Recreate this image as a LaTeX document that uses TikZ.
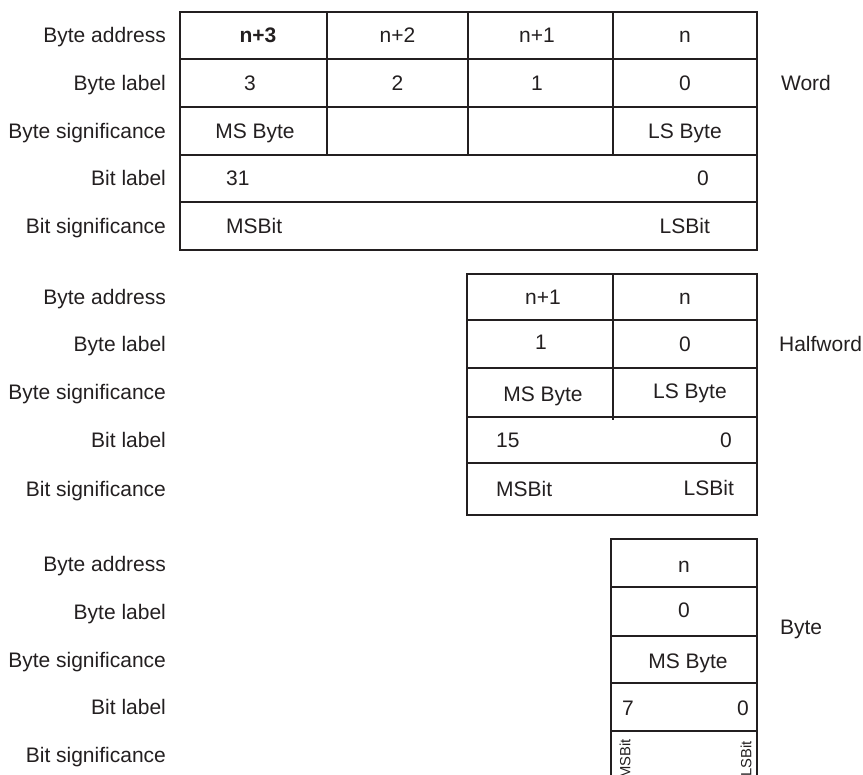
\documentclass[tikz,border=0pt]{standalone}
\usepackage{fontspec}
\setmainfont{Liberation Sans}
\usepackage{xcolor}
\usetikzlibrary{positioning}
\definecolor{ink}{RGB}{35,31,32}

\begin{document}
\begin{tikzpicture}[x=0.5pt, y=-0.5pt, ink, line width=1.1pt,
    font=\fontsize{10.5}{12}\selectfont,
    txt/.style={inner sep=0pt, text height=7.5pt, text depth=0pt},
    rowname/.style={txt, anchor=east},
    lft/.style={txt, anchor=west},
    rgt/.style={txt, anchor=east},
    rot/.style={txt, rotate=90, anchor=east, text height=5.3pt, font=\fontsize{7.4}{9}\selectfont}]
        \clip (0,0) rectangle (863,775);
        % Word
        \draw (180,12) rectangle (757,250);
        \draw (180,59) -- (757,59);
        \draw (180,107) -- (757,107);
        \draw (180,155) -- (757,155);
        \draw (180,202) -- (757,202);
        \draw (327,12) -- (327,155);
        \draw (468,12) -- (468,155);
        \draw (613,12) -- (613,155);
        \node[rowname] (wAddr) at (167,35.5) {Byte address};
        \node[rowname] (wLbl) at (167,83) {Byte label};
        \node[rowname] (wSig) at (167,131) {Byte significance};
        \node[rowname] (wBit) at (167,178.5) {Bit label};
        \node[rowname] (wBitSig) at (167,226) {Bit significance};
        \node[txt] (wA3) at (258,35.5) {\bfseries n+3};
        \node[txt] (wA2) at (397.5,35.5) {n+2};
        \node[txt] (wA1) at (537,35.5) {n+1};
        \node[txt] (wA0) at (685,35.5) {n};
        \node[txt] (wL3) at (250,83) {3};
        \node[txt] (wL2) at (397.5,83) {2};
        \node[txt] (wL1) at (537,83) {1};
        \node[txt] (wL0) at (685,83) {0};
        \node[txt] (wMS) at (255,131) {MS Byte};
        \node[txt] (wLS) at (685,131) {LS Byte};
        \node[lft] (wB31) at (225,178.5) {31};
        \node[rgt] (wB0) at (710,178.5) {0};
        \node[lft] (wMSBit) at (225,226) {MSBit};
        \node[rgt] (wLSBit) at (711,226) {LSBit};
        \node[txt, anchor=west] (word) at (780,83) {Word};
        % Halfword
        \draw (467,274) rectangle (757,515);
        \draw (467,320) -- (757,320);
        \draw (467,368) -- (757,368);
        \draw (467,417) -- (757,417);
        \draw (467,463) -- (757,463);
        \draw (613,274) -- (613,420);
        \node[rowname] (hAddr) at (167,297) {Byte address};
        \node[rowname] (hLbl) at (167,344) {Byte label};
        \node[rowname] (hSig) at (167,392.5) {Byte significance};
        \node[rowname] (hBit) at (167,440) {Bit label};
        \node[rowname] (hBitSig) at (167,489) {Bit significance};
        \node[txt] (hA1) at (543,297) {n+1};
        \node[txt] (hA0) at (685,297) {n};
        \node[txt] (hL1) at (541,342) {1};
        \node[txt] (hL0) at (685,344) {0};
        \node[txt] (hMS) at (543,394) {MS Byte};
        \node[txt] (hLS) at (690,391) {LS Byte};
        \node[lft] (hB15) at (495,440) {15};
        \node[rgt] (hB0) at (733,440) {0};
        \node[lft] (hMSBit) at (495,489) {MSBit};
        \node[rgt] (hLSBit) at (735,488) {LSBit};
        \node[txt, anchor=west] (halfword) at (778,344) {Halfword};
        % Byte
        \draw (611,539) rectangle (757,782);
        \draw (611,587) -- (757,587);
        \draw (611,636) -- (757,636);
        \draw (611,683) -- (757,683);
        \draw (611,731) -- (757,731);
        \node[rowname] (bAddr) at (167,564) {Byte address};
        \node[rowname] (bLbl) at (167,612) {Byte label};
        \node[rowname] (bSig) at (167,660) {Byte significance};
        \node[rowname] (bBit) at (167,707) {Bit label};
        \node[rowname] (bBitSig) at (167,755) {Bit significance};
        \node[txt] (bA0) at (684,565) {n};
        \node[txt] (bL0) at (684,610) {0};
        \node[txt] (bMS) at (688,661) {MS Byte};
        \node[lft] (bB7) at (621,708) {7};
        \node[rgt] (bB0) at (750,708) {0};
        \node[rot] (bMSBit) at (625,738) {MSBit};
        \node[rot] (bLSBit) at (746,740) {LSBit};
        \node[txt, anchor=west] (byte) at (779,627) {Byte};
    \end{tikzpicture}
\end{document}
